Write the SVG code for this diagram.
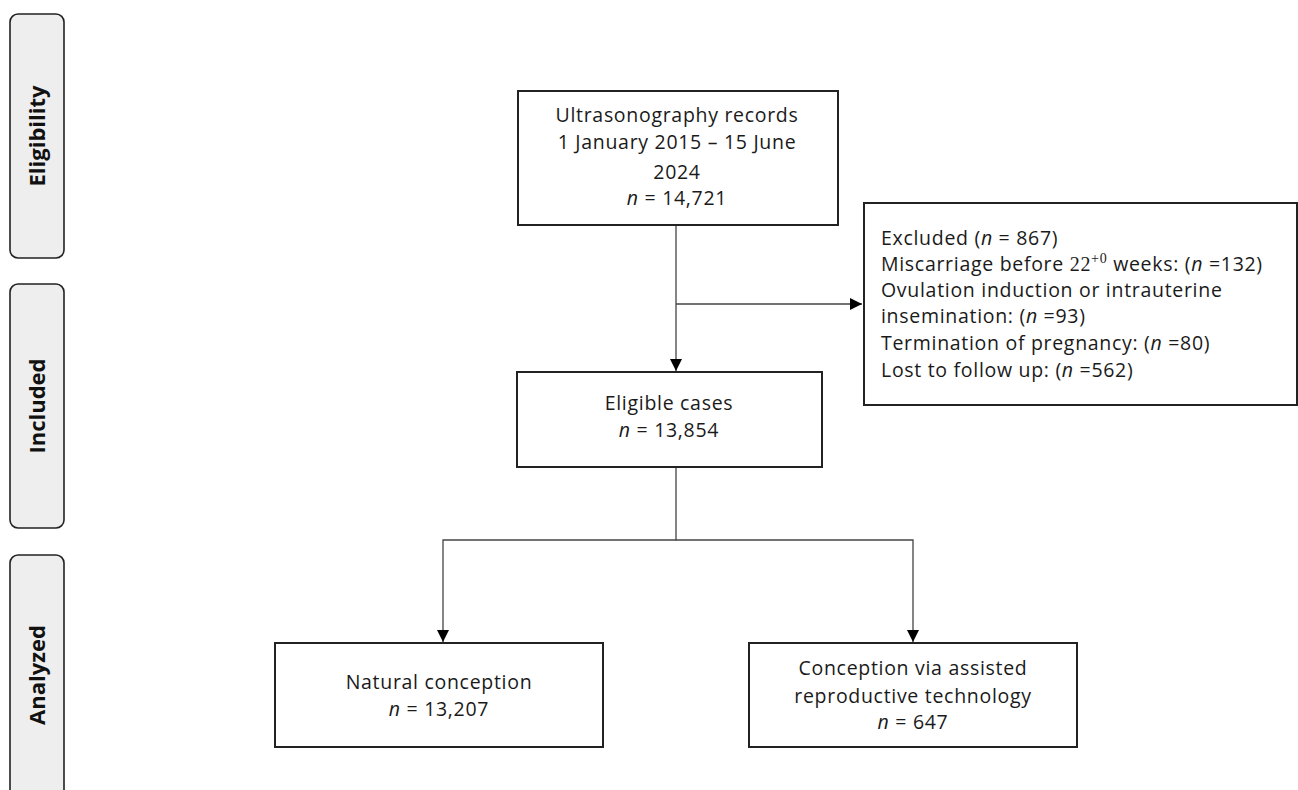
<svg xmlns="http://www.w3.org/2000/svg" width="1298" height="790" viewBox="0 0 1298 790">
<defs>
<marker id="arr" viewBox="0 0 12 12" refX="12" refY="6" markerWidth="12" markerHeight="12" markerUnits="userSpaceOnUse" orient="auto">
<path d="M0,0 L12,6 L0,12 Z" fill="#000"/>
</marker>
<style>
.side{fill:#eeeeee;stroke:#222;stroke-width:1.6}
.sidet{font-family:"Open Sans","Liberation Sans",sans-serif;font-weight:bold;font-size:22px;fill:#111;text-anchor:middle}
.box{fill:#fff;stroke:#222;stroke-width:2}
.t{font-family:"Open Sans","Liberation Sans",Arial,sans-serif;font-size:19.5px;letter-spacing:0.7px;fill:#1a1a1a}
.c{text-anchor:middle}
.conn{fill:none;stroke:#444;stroke-width:1.3}
</style>
</defs>
<rect width="1298" height="790" fill="#fff"/>
<g id="side-eligibility">
<rect class="side" x="10" y="14" width="54" height="244" rx="8"/>
<text class="sidet" transform="translate(45,136) rotate(-90)">Eligibility</text>
</g>
<g id="side-included">
<rect class="side" x="10" y="284" width="54" height="244" rx="8"/>
<text class="sidet" transform="translate(45,406) rotate(-90)">Included</text>
</g>
<g id="side-analyzed">
<rect class="side" x="10" y="555" width="54" height="250" rx="8"/>
<text class="sidet" transform="translate(45,675) rotate(-90)">Analyzed</text>
</g>
<g id="connectors">
<path class="conn" d="M676,226 V371" marker-end="url(#arr)"/>
<path class="conn" d="M676,304 H862" marker-end="url(#arr)"/>
<path class="conn" d="M676,467 V540 H443 V642" marker-end="url(#arr)"/>
<path class="conn" d="M676,540 H913 V642" marker-end="url(#arr)"/>
</g>
<g id="node-records">
<rect class="box" x="518" y="91" width="320" height="134"/>
<text class="t c" x="677" y="122">Ultrasonography records</text>
<text class="t c" x="677" y="149">1 January 2015  – 15 June</text>
<text class="t c" x="677" y="179">2024</text>
<text class="t c" x="677" y="205"><tspan font-style="italic">n</tspan> = 14,721</text>
</g>
<g id="node-excluded">
<rect class="box" x="864" y="203" width="433" height="202"/>
<text class="t" x="881" y="245">Excluded (<tspan font-style="italic">n</tspan> = 867)</text>
<text class="t" x="881" y="271">Miscarriage before <tspan font-family="'Liberation Serif',serif" font-size="20px">22</tspan><tspan font-family="'Liberation Serif',serif" font-size="14px" dy="-8">+0</tspan><tspan dy="8"> weeks: (</tspan><tspan font-style="italic">n</tspan> =132)</text>
<text class="t" x="881" y="297">Ovulation induction or intrauterine</text>
<text class="t" x="881" y="323">insemination: (<tspan font-style="italic">n</tspan> =93)</text>
<text class="t" x="881" y="350">Termination of pregnancy: (<tspan font-style="italic">n</tspan> =80)</text>
<text class="t" x="881" y="377">Lost to follow up: (<tspan font-style="italic">n</tspan> =562)</text>
</g>
<g id="node-eligible">
<rect class="box" x="517" y="372" width="305" height="95"/>
<text class="t c" x="669" y="410">Eligible cases</text>
<text class="t c" x="669" y="437"><tspan font-style="italic">n</tspan> = 13,854</text>
</g>
<g id="node-natural">
<rect class="box" x="275" y="643" width="328" height="104"/>
<text class="t c" x="439" y="689">Natural conception</text>
<text class="t c" x="439" y="716"><tspan font-style="italic">n</tspan> = 13,207</text>
</g>
<g id="node-art">
<rect class="box" x="749" y="643" width="328" height="104"/>
<text class="t c" x="913" y="675">Conception via assisted</text>
<text class="t c" x="913" y="703">reproductive technology</text>
<text class="t c" x="913" y="729"><tspan font-style="italic">n</tspan> = 647</text>
</g>
</svg>
